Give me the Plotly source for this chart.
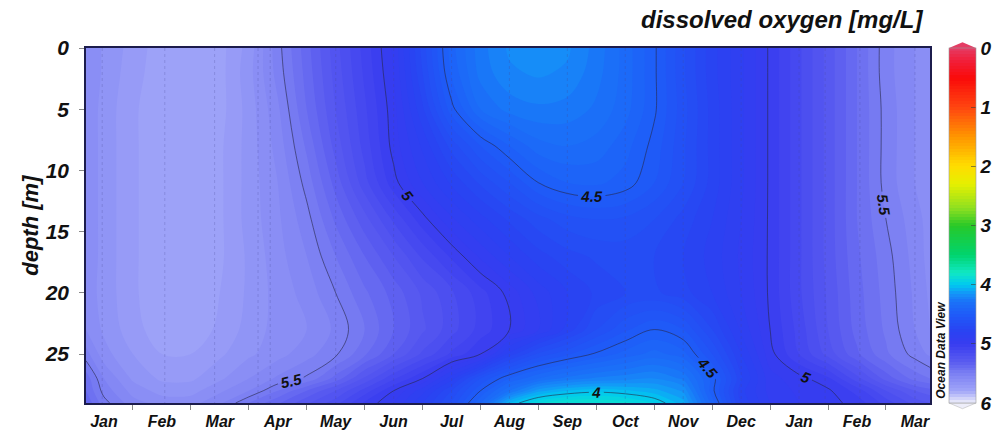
import plotly.graph_objects as go

# ---------------- data ----------------
# time axis in months (0 = 1 Jan of first year)
months_x = [0.19, 0.5, 1.0, 1.5, 2.0, 2.5, 3.0, 3.5, 4.0, 4.5, 5.0, 5.5, 6.0, 6.5, 7.0, 7.5,
            8.0, 8.5, 9.0, 9.5, 10.0, 10.5, 11.0, 11.5, 12.0, 12.5, 13.0, 13.5, 14.0, 14.5, 14.76]
depths = [0, 2, 5, 8, 11, 14, 17, 20, 23, 25, 27, 28, 29]

# dissolved oxygen [mg/L], one row per depth
do_values = [
    [5.60, 5.66, 5.72, 5.78, 5.80, 5.77, 5.68, 5.52, 5.37, 5.22, 5.08, 4.94, 4.68, 4.42, 4.27, 4.19,
     4.16, 4.19, 4.27, 4.37, 4.49, 4.64, 4.78, 4.89, 5.01, 5.14, 5.27, 5.40, 5.53, 5.60, 5.63],
    [5.60, 5.66, 5.73, 5.78, 5.80, 5.77, 5.67, 5.53, 5.38, 5.23, 5.09, 4.95, 4.70, 4.44, 4.28, 4.21,
     4.19, 4.21, 4.28, 4.37, 4.49, 4.64, 4.78, 4.89, 5.01, 5.14, 5.27, 5.40, 5.53, 5.60, 5.63],
    [5.61, 5.67, 5.74, 5.79, 5.80, 5.77, 5.68, 5.56, 5.40, 5.25, 5.11, 4.97, 4.76, 4.52, 4.35, 4.28,
     4.26, 4.27, 4.31, 4.38, 4.49, 4.63, 4.77, 4.89, 5.01, 5.14, 5.27, 5.40, 5.52, 5.60, 5.63],
    [5.61, 5.67, 5.74, 5.79, 5.80, 5.76, 5.68, 5.58, 5.44, 5.28, 5.13, 4.98, 4.84, 4.68, 4.55, 4.45,
     4.37, 4.35, 4.37, 4.43, 4.52, 4.64, 4.77, 4.89, 5.01, 5.14, 5.27, 5.40, 5.52, 5.60, 5.63],
    [5.61, 5.67, 5.74, 5.79, 5.80, 5.76, 5.68, 5.60, 5.48, 5.33, 5.17, 5.02, 4.90, 4.79, 4.69, 4.60,
     4.50, 4.45, 4.44, 4.47, 4.55, 4.65, 4.77, 4.89, 5.01, 5.14, 5.27, 5.40, 5.52, 5.60, 5.63],
    [5.61, 5.67, 5.74, 5.79, 5.80, 5.76, 5.68, 5.61, 5.52, 5.39, 5.27, 5.14, 5.02, 4.91, 4.82, 4.74,
     4.67, 4.62, 4.60, 4.61, 4.65, 4.72, 4.80, 4.90, 5.01, 5.14, 5.27, 5.40, 5.50, 5.58, 5.62],
    [5.61, 5.67, 5.74, 5.79, 5.80, 5.76, 5.69, 5.62, 5.55, 5.45, 5.35, 5.25, 5.14, 5.04, 4.94, 4.85,
     4.77, 4.72, 4.69, 4.68, 4.70, 4.75, 4.82, 4.91, 5.01, 5.14, 5.27, 5.39, 5.48, 5.57, 5.62],
    [5.62, 5.67, 5.74, 5.79, 5.79, 5.75, 5.69, 5.63, 5.58, 5.50, 5.41, 5.33, 5.24, 5.16, 5.07, 4.98,
     4.88, 4.80, 4.74, 4.70, 4.69, 4.73, 4.80, 4.90, 5.01, 5.14, 5.26, 5.38, 5.47, 5.56, 5.61],
    [5.60, 5.66, 5.73, 5.78, 5.78, 5.74, 5.68, 5.63, 5.60, 5.54, 5.45, 5.35, 5.26, 5.17, 5.08, 5.00,
     4.90, 4.78, 4.65, 4.56, 4.50, 4.55, 4.70, 4.86, 5.00, 5.12, 5.25, 5.37, 5.46, 5.55, 5.60],
    [5.53, 5.63, 5.70, 5.75, 5.75, 5.71, 5.66, 5.62, 5.57, 5.51, 5.41, 5.30, 5.19, 5.09, 5.00, 4.78,
     4.64, 4.56, 4.49, 4.43, 4.38, 4.43, 4.60, 4.80, 4.98, 5.10, 5.22, 5.34, 5.44, 5.52, 5.56],
    [5.42, 5.55, 5.66, 5.71, 5.71, 5.66, 5.60, 5.54, 5.49, 5.38, 5.24, 5.11, 5.00, 4.82, 4.60, 4.45,
     4.35, 4.28, 4.24, 4.22, 4.20, 4.26, 4.47, 4.74, 4.93, 4.98, 5.04, 5.18, 5.32, 5.42, 5.45],
    [5.40, 5.52, 5.62, 5.67, 5.67, 5.61, 5.55, 5.45, 5.35, 5.25, 5.13, 5.00, 4.87, 4.70, 4.50, 4.30,
     4.12, 4.05, 4.02, 4.04, 4.08, 4.16, 4.48, 4.78, 4.92, 4.96, 4.99, 5.07, 5.20, 5.30, 5.33],
    [5.36, 5.48, 5.58, 5.62, 5.62, 5.56, 5.45, 5.36, 5.26, 5.17, 5.04, 4.95, 4.80, 4.64, 4.40, 4.05,
     3.90, 3.85, 3.85, 3.88, 3.95, 4.08, 4.42, 4.76, 4.90, 4.95, 4.98, 5.02, 5.12, 5.22, 5.25],
]

# sampling times (dotted station lines)
sample_times = [0.47, 1.55, 2.41, 3.16, 3.37, 4.5, 5.5, 6.5, 7.5, 8.5, 9.5, 10.5, 11.5,
                12.5, 12.95, 13.55, 14.5]

month_labels = ["Jan", "Feb", "Mar", "Apr", "May", "Jun", "Jul", "Aug", "Sep", "Oct",
                "Nov", "Dec", "Jan", "Feb", "Mar"]
month_centers = [i + 0.5 for i in range(len(month_labels))]
month_bounds = list(range(1, len(month_labels)))
depth_ticks = [0, 5, 10, 15, 20, 25]
cbar_ticks = [0, 1, 2, 3, 4, 5, 6]
contour_levels = dict(start=4.0, end=5.5, size=0.5)

# ODV-like palette: value -> colour
cs_values = [0.0, 0.2, 0.5, 1.0, 1.5, 2.0, 2.3, 2.7, 3.0, 3.5, 3.8, 4.0, 4.15, 4.3, 4.5,
             4.8, 5.0, 5.3, 5.5, 5.8, 6.0]
cs_colors = ["#e53c64", "#f0203c", "#fa0a0a", "#ff4410", "#ff9600", "#ffdc00", "#e6f000",
             "#90e020", "#28c828", "#00d46e", "#10e8c4", "#00c8f0", "#1592f8", "#1a72f8",
             "#1e5cf8", "#2a42f2", "#383cf0", "#5a5cf0", "#7a7ef2", "#a0a5f8", "#eeeefa"]

# ---------------- figure ----------------
VMAX = 6.0
# negate so that the colour bar runs 0 (top) -> 6 (bottom)
neg_values = [[-v for v in row] for row in do_values]
colorscale = sorted([(1 - v / VMAX, c) for v, c in zip(cs_values, cs_colors)])

FONT = "Liberation Sans, Arial, sans-serif"


def bi(size):
    return dict(family=FONT, size=size, color="#111", weight="bold", style="italic")


fig = go.Figure()

fig.add_trace(go.Contour(
    x=months_x, y=depths, z=neg_values,
    colorscale=colorscale, zmin=-VMAX, zmax=0,
    contours=dict(start=-VMAX, end=0, size=0.05, coloring="fill", showlines=False),
    line=dict(width=0, smoothing=1.0),
    hoverinfo="skip",
    colorbar=dict(
        x=1.0225, xanchor="left", xpad=0, y=0.5, yanchor="middle", ypad=0,
        len=1.0, lenmode="fraction", thickness=27,
        tickmode="array", tickvals=[-t for t in cbar_ticks],
        ticktext=[str(t) for t in cbar_ticks],
        ticks="inside", ticklen=5, tickcolor="rgba(60,60,60,0.6)",
        outlinewidth=0.6, outlinecolor="#9a9a9a",
        tickfont=bi(19),
    ),
))

# dotted station lines
sx, sy = [], []
for t in sample_times:
    sx += [t, t, None]
    sy += [depths[0], depths[-1], None]
fig.add_trace(go.Scatter(
    x=sx, y=sy, mode="lines",
    line=dict(color="rgba(70,70,150,0.25)", width=1, dash="dot"),
    hoverinfo="skip", showlegend=False,
))

# labelled isolines
fig.add_trace(go.Contour(
    x=months_x, y=depths, z=do_values,
    contours=dict(coloring="none", showlabels=True, labelfont=bi(15), **contour_levels),
    line=dict(color="rgba(40,40,70,0.75)", width=0.8, smoothing=1.0),
    showscale=False, hoverinfo="skip",
))

fig.update_layout(
    width=995, height=434,
    margin=dict(l=86, r=65, t=48, b=31, autoexpand=False),
    paper_bgcolor="white", plot_bgcolor="white",
    showlegend=False,
    xaxis=dict(
        range=[months_x[0], months_x[-1]],
        tickmode="array", tickvals=month_centers, ticktext=month_labels,
        ticks="", ticklabelstandoff=3,
        tickfont=bi(16),
        minor=dict(tickmode="array", tickvals=month_bounds, ticks="outside",
                   ticklen=5, tickcolor="#888", tickwidth=1, showgrid=False),
        showgrid=False, zeroline=False,
        showline=True, mirror=True, linecolor="#1c1c4c", linewidth=1.5,
    ),
    yaxis=dict(
        range=[depths[-1], depths[0]],
        tickmode="array", tickvals=depth_ticks,
        ticks="outside", ticklen=5, tickcolor="#888", ticklabelstandoff=6,
        tickfont=bi(21),
        showgrid=False, zeroline=False,
        showline=True, mirror=True, linecolor="#1c1c4c", linewidth=1.5,
    ),
    annotations=[
        dict(text="dissolved oxygen [mg/L]", xref="paper", yref="paper",
             x=0.994, y=1.079, xanchor="right", yanchor="middle", showarrow=False,
             font=bi(24)),
        dict(text="depth [m]", xref="paper", yref="paper",
             x=-0.066, y=0.5, xanchor="center", yanchor="middle", showarrow=False,
             textangle=-90, font=bi(22)),
        dict(text="Ocean Data View", xref="paper", yref="paper",
             x=1.013, y=0.15, xanchor="center", yanchor="middle", showarrow=False,
             textangle=-90, font=bi(12)),
    ],
    shapes=[
        dict(type="path", xref="paper", yref="paper",
             path="M 1.0225 1.0 L 1.0385 1.016 L 1.0545 1.0 Z",
             fillcolor=cs_colors[0], line=dict(width=0)),
        dict(type="path", xref="paper", yref="paper",
             path="M 1.0225 0.0 L 1.0385 -0.016 L 1.0545 0.0 Z",
             fillcolor=cs_colors[-1], line=dict(width=0.6, color="#bbbbbb")),
    ],
)

fig.write_html("out.html")
